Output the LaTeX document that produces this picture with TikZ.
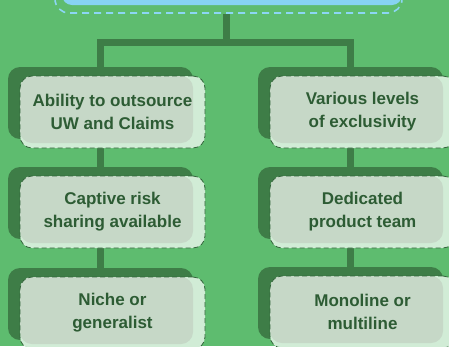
\documentclass[tikz,border=0pt]{standalone}
\usepackage{fontspec}
\setmainfont{Liberation Sans}
\usepackage{tikz}
\usetikzlibrary{backgrounds}

\definecolor{leafbg}{RGB}{94,188,111}
\definecolor{leafdark}{RGB}{62,125,71}
\definecolor{leafgrey}{RGB}{198,216,199}
\definecolor{leafpale}{RGB}{209,236,214}
\definecolor{leaftext}{RGB}{45,92,52}
\definecolor{leafdash}{RGB}{50,100,58}
\definecolor{skyfill}{RGB}{135,211,242}
\definecolor{skydash}{RGB}{140,214,245}

\begin{document}
\begin{tikzpicture}[x=1pt,y=-1pt,
    itembox/.style={rectangle,rounded corners=12pt,minimum width=185pt,minimum height=72pt,
        inner sep=0pt,fill=leafpale,draw=leafdash,line width=0.8pt,dash pattern=on 5pt off 3pt,
        preaction={fill=leafdark,draw=none,transform canvas={xshift=-12pt,yshift=9pt}},
        path picture={\fill[leafgrey,rounded corners=12pt] (path picture bounding box.north west)
            rectangle ([xshift=-12pt,yshift=5pt]path picture bounding box.south east);},
        align=center,text=leaftext,font=\fontsize{17}{23}\selectfont\bfseries},
    goalbox/.style={rectangle,rounded corners=14pt,minimum width=347pt,minimum height=60pt,
        draw=skydash,line width=1.6pt,dash pattern=on 7pt off 5pt,
        path picture={\fill[skyfill,rounded corners=10pt]
            ([xshift=7pt,yshift=8pt]path picture bounding box.south west)
            rectangle (path picture bounding box.north east);}},
    link/.style={leafdark,line width=7pt}]
    \useasboundingbox (0,0) rectangle (449,346);

    % goal at the top, mostly off the page
    \node[goalbox] (goal) at (228.5,-17) {};
    \coordinate (fork) at (226,42);

    % left branch
    \node[itembox] (a1) at (112.5,112) {Ability to outsource\\UW and Claims};
    \node[itembox] (a2) at (112.5,212) {Captive risk\\sharing available};
    \node[itembox] (a3) at (112.5,313) {Niche or\\generalist};

    % right branch
    \node[itembox] (b1) at (362.5,112) {Various levels\\of exclusivity};
    \node[itembox] (b2) at (362.5,212) {Dedicated\\product team};
    \node[itembox] (b3) at (362.5,312) {Monoline or\\multiline};

    \begin{pgfonlayer}{background}
        \fill[leafbg] (0,0) rectangle (449,346);
        \draw[link] (goal.south -| fork) -- (fork);
        \draw[link] ([xshift=-12pt]a1.north) |- (fork) -| ([xshift=-12pt]b1.north);
        \draw[link] ([xshift=-12pt]a1.south) -- ([xshift=-12pt]a2.north);
        \draw[link] ([xshift=-12pt]a2.south) -- ([xshift=-12pt]a3.north);
        \draw[link] ([xshift=-12pt]b1.south) -- ([xshift=-12pt]b2.north);
        \draw[link] ([xshift=-12pt]b2.south) -- ([xshift=-12pt]b3.north);
    \end{pgfonlayer}
\end{tikzpicture}
\end{document}
